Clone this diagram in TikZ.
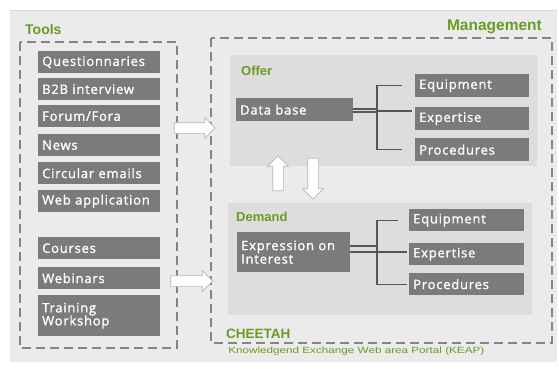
\documentclass[tikz,border=0pt]{standalone}
\usepackage{fontspec}
\setmainfont{Open Sans}
\newfontfamily\boxfont[FakeBold=1.2, LetterSpace=6]{Open Sans}
\newfontfamily\labelfont{Liberation Sans}
\usetikzlibrary{shapes.arrows}

\definecolor{panelgray}{HTML}{EBEBEB}
\definecolor{innergray}{HTML}{DDDDDD}
\definecolor{boxgray}{HTML}{7B7B7B}
\definecolor{framegray}{HTML}{858585}
\definecolor{treegray}{HTML}{555555}
\definecolor{leafgreen}{HTML}{6A9B22}

\tikzset{
    toolbox/.style={fill=boxgray, text=white, font=\boxfont\fontsize{13}{13.5}\selectfont,
        anchor=north west, text width=114pt, inner xsep=4pt, inner ysep=0pt,
        minimum height=22pt, align=left},
    itembox/.style={toolbox, text width=107pt},
    frame/.style={draw=framegray, line width=1.3pt, dash pattern=on 9pt off 5pt},
    greenlabel/.style={text=leafgreen, font=\labelfont\bfseries, inner sep=0pt},
    tree/.style={draw=treegray, line width=1.2pt},
    blockarrow/.style={single arrow, draw=framegray!60, fill=white, line width=0.7pt,
        inner sep=5pt, minimum width=0pt, single arrow head extend=5pt,
        single arrow head indent=0pt}
}

\begin{document}
\begin{tikzpicture}[x=1pt, y=-1pt]
    \useasboundingbox (0,0) rectangle (559,369);
    \fill[panelgray] (10,10) rectangle (557,362);
    \draw[white!85!black, line width=1pt] (10,11) -- (557,11);

    % tools
    \node[greenlabel, anchor=west, font=\labelfont\bfseries\fontsize{14}{15}\selectfont] (tools) at (25,29) {Tools};
    \draw[frame] (20,42) rectangle (177,348);

    \node[toolbox] (quest) at (38,51) {Questionnaries};
    \node[toolbox] (btob) at (38,78) {B2B interview};
    \node[toolbox] (forum) at (38,105) {Forum/Fora};
    \node[toolbox] (news) at (38,134) {News};
    \node[toolbox] (mails) at (38,162) {Circular emails};
    \node[toolbox] (webapp) at (38,190) {Web application};
    \node[toolbox] (courses) at (38,237) {Courses};
    \node[toolbox] (webinar) at (38,267) {Webinars};
    \node[toolbox, minimum height=41pt, font=\boxfont\fontsize{13}{13}\selectfont] (training) at (38,295) {Training\\Workshop};

    % management
    \node[greenlabel, anchor=east, font=\labelfont\bfseries\fontsize{15.5}{16}\selectfont] (manage) at (542,27) {Management};
    \draw[frame] (211,38) rectangle (552,343);
    \node[greenlabel, anchor=west, font=\labelfont\bfseries\fontsize{13.5}{14}\selectfont] (cheetah) at (226,334) {CHEETAH};
    \node[greenlabel, anchor=west, font=\labelfont\fontsize{9}{10}\selectfont, xscale=1.3] (keap) at (228,351) {Knowledgend Exchange Web area Portal (KEAP)};

    % offer
    \fill[innergray] (230,55) rectangle (537,166);
    \node[greenlabel, anchor=west, font=\labelfont\bfseries\fontsize{13}{14}\selectfont] (offer) at (241,71) {Offer};
    \node[toolbox, text width=109pt, minimum height=23pt] (db) at (236,98) {Data base};
    \node[itembox, text width=106pt, minimum height=23pt] (oeq) at (415,74) {Equipment};
    \node[itembox, text width=106pt, minimum height=23pt] (oex) at (415,107) {Expertise};
    \node[itembox, text width=106pt, minimum height=23pt] (opr) at (415,138) {Procedures};

    \coordinate (oj) at (377,111);
    \draw[tree] ([yshift=2pt]db.east |- oj) -- ([yshift=2pt]oj);
    \draw[tree] ([yshift=-1pt]db.east |- oj) -- ([yshift=-1pt]oj);
    \draw[tree, shorten >=13pt] (oj) |- (oeq.west);
    \draw[tree, shorten >=3pt] (oj) -- (oex.west |- oj);
    \draw[tree, shorten >=13pt] (oj) |- (opr.west);

    % demand
    \fill[innergray] (228,203) rectangle (532,315);
    \node[greenlabel, anchor=west, font=\labelfont\bfseries\fontsize{13}{14}\selectfont] (demand) at (236,217) {Demand};
    \node[toolbox, text width=105pt, minimum height=40pt] (expr) at (237,232) {Expression on\\Interest};
    \node[itembox] (deq) at (409,209) {Equipment};
    \node[itembox] (dex) at (409,243) {Expertise};
    \node[itembox] (dpr) at (409,273) {Procedures};

    \coordinate (dj) at (377,246);
    \coordinate (dmid) at (350,252);
    \draw[tree] (expr.east |- dj) -- (dj);
    \draw[tree, shorten >=11pt] (dj) |- (deq.west);
    \draw[tree, shorten >=2pt] (dmid) -- (dex.west |- dmid);
    \draw[tree, shorten >=2pt] (dj) |- (dpr.west);

    % arrows
    \node[blockarrow, minimum height=41pt] (toffer) at (192,128) {};
    \node[blockarrow, minimum height=42pt] (tdemand) at (189,281) {};
    \node[blockarrow, minimum height=35pt, shape border rotate=90] (up) at (278,176) {};
    \node[blockarrow, minimum height=41pt, shape border rotate=270] (down) at (313,176) {};
\end{tikzpicture}
\end{document}
